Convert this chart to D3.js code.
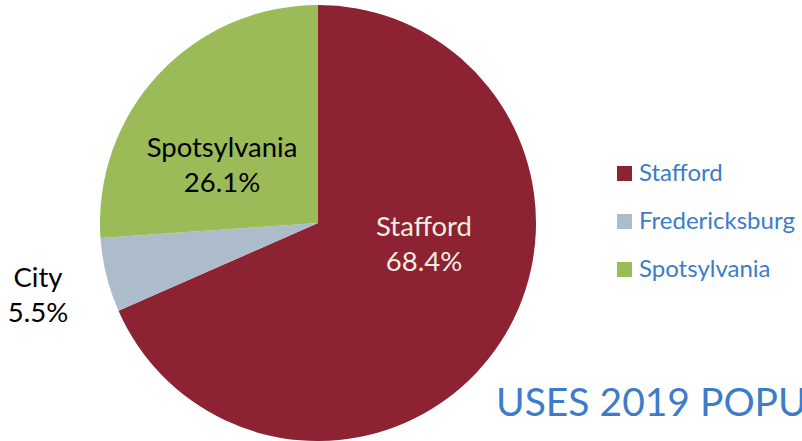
<!DOCTYPE html>
<html>
<head>
<meta charset="utf-8">
<script src="https://cdn.jsdelivr.net/npm/d3@7"></script>
<style>
  body { margin: 0; background: #fff; overflow: hidden; }
  svg { display: block; font-family: Lato, "Open Sans", sans-serif; }
</style>
</head>
<body>
<script>
// data
const regions = ["Stafford", "Fredericksburg City", "Spotsylvania"];
const shares = [68.4, 5.5, 26.1];
const legendNames = ["Stafford", "Fredericksburg City", "Spotsylvania"];
const sliceLabels = [["Stafford", "68.4%"], ["City", "5.5%"], ["Spotsylvania", "26.1%"]];
const colors = ["#8c2232", "#adbccb", "#9bbb59"];

const WIDTH = 802;
const HEIGHT = 441;
const cx = 318, cy = 223, R = 218;

const svg = d3.select("body").append("svg")
	.attr("width", WIDTH)
	.attr("height", HEIGHT);

const color = d3.scaleOrdinal().domain(regions).range(colors);

const pie = d3.pie().sort(null).value((d, i) => shares[i]);
const arcs = pie(regions);
const arc = d3.arc().innerRadius(0).outerRadius(R);

const g = svg.append("g").attr("transform", `translate(${cx},${cy})`);

g.selectAll("path")
	.data(arcs)
	.enter()
	.append("path")
	.attr("d", arc)
	.attr("fill", (d) => color(d.data));

// label positions (offset from center, first baseline)
const labelPos = [[106, 13], [-280, 64], [-96, -66]];
const labelFill = ["#f3ede0", "#000", "#000"];

g.selectAll("text.lbl")
	.data(arcs)
	.enter()
	.append("text")
	.attr("class", "lbl")
	.attr("text-anchor", "middle")
	.attr("font-size", 27.5)
	.attr("fill", (d, i) => labelFill[i])
	.each(function (d, i) {
		const t = d3.select(this);
		sliceLabels[i].forEach((line, k) => {
			t.append("tspan")
				.attr("x", labelPos[i][0])
				.attr("y", labelPos[i][1] + k * 35)
				.text(line);
		});
	});

// legend
const legend = svg.append("g").attr("transform", "translate(617,166)");
const item = legend.selectAll("g")
	.data(legendNames)
	.enter()
	.append("g")
	.attr("transform", (d, i) => `translate(0,${i * 48})`);
item.append("rect")
	.attr("width", 15)
	.attr("height", 15)
	.attr("fill", (d, i) => colors[i]);
item.append("text")
	.attr("x", 22)
	.attr("y", 15)
	.attr("font-size", 24)
	.attr("fill", "#3c7cc8")
	.text((d) => d);

svg.append("text")
	.attr("x", 496)
	.attr("y", 416)
	.attr("font-size", 39)
	.attr("fill", "#3c7cc8")
	.text("USES 2019 POPULATION");
</script>
</body>
</html>
